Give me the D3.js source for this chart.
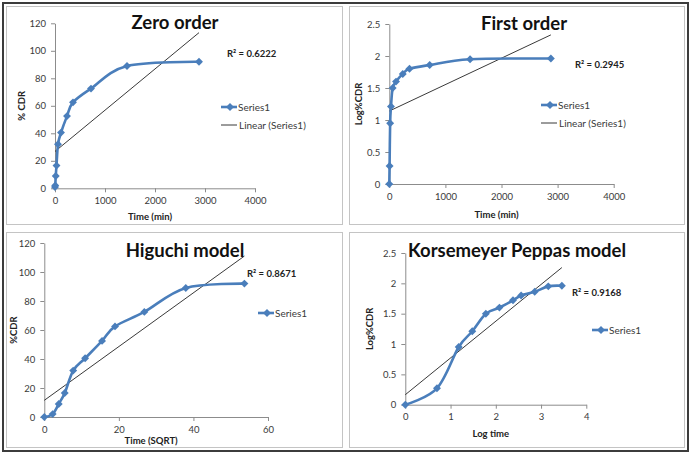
<!DOCTYPE html>
<html>
<head>
<meta charset="utf-8">
<script src="https://cdn.jsdelivr.net/npm/d3@7"></script>
<style>
  body { margin: 0; background: #fff; }
  svg { display: block; font-family: Lato, "Open Sans", sans-serif; }
</style>
</head>
<body>
<div id="chart"></div>
<script>
// data
const timeMin = [0, 5, 15, 30, 60, 120, 240, 360, 720, 1440, 2880];
const cdr = [1, 2, 9, 16.5, 32, 40.5, 52.5, 62.5, 72.5, 89, 92];
const logCdr = [0, 0.28, 0.95, 1.21, 1.5, 1.6, 1.72, 1.8, 1.86, 1.95, 1.96];
const sqrtTime = [0, 2.24, 3.87, 5.48, 7.75, 10.95, 15.49, 18.97, 26.83, 37.95, 53.67];
const cdrHiguchi = [0, 2, 9, 16.5, 32, 40.5, 52.5, 62.5, 72.5, 89, 92];
const logTime = [0, 0.7, 1.18, 1.48, 1.78, 2.08, 2.38, 2.56, 2.86, 3.16, 3.46];
const logCdrKp = [0, 0.27, 0.95, 1.21, 1.5, 1.6, 1.72, 1.8, 1.86, 1.95, 1.96];

// trend line end points (as drawn)
const trendZero = [[0, 26.8], [2880, 113.2]];
const trendFirst = [[0, 1.14], [2880, 2.33]];
const trendHiguchi = [[0, 11.5], [53.67, 111]];
const trendKp = [[0, 0.165], [3.46, 2.26]];

const titles = ["Zero order", "First order", "Higuchi model", "Korsemeyer Peppas model"];
const r2Labels = ["R\u00B2 = 0.6222", "R\u00B2 = 0.2945", "R\u00B2 = 0.8671", "R\u00B2 = 0.9168"];
const xLabels = ["Time (min)", "Time (min)", "Time (SQRT)", "Log time"];
const yLabels = ["% CDR", "Log%CDR", "%CDR", "Log%CDR"];
const xTicksTime = [0, 1000, 2000, 3000, 4000];
const xTicksSqrt = [0, 20, 40, 60];
const xTicksLog = [0, 1, 2, 3, 4];
const yTicksPct = [0, 20, 40, 60, 80, 100, 120];
const yTicksLog = [0, 0.5, 1, 1.5, 2, 2.5];

const W = 694, H = 457;
const blue = "#4a7ebb";
const axisColor = "#8c8c8c";
const textColor = "#3a3a3a";

const svg = d3.select("#chart").append("svg")
  .attr("width", W).attr("height", H);

// panel frames
const frames = [[6, 6, 336, 218], [349, 6, 335, 218], [6, 232, 336, 215], [349, 232, 335, 215]];
frames.forEach(f => {
  svg.append("rect")
    .attr("x", f[0] + 0.5).attr("y", f[1] + 0.5)
    .attr("width", f[2]).attr("height", f[3])
    .attr("fill", "none").attr("stroke", "#c4c4c4").attr("stroke-width", 1);
});
svg.append("rect")
  .attr("x", 3).attr("y", 3).attr("width", 685).attr("height", 448)
  .attr("fill", "none").attr("stroke", "#3c3c3c").attr("stroke-width", 2);

const panels = [
  { xs: timeMin, ys: cdr, trend: trendZero, xDom: [0, 4000], yDom: [0, 120],
    xTicks: xTicksTime, yTicks: yTicksPct, linear: true,
    xr: [55, 255], yr: [188.3, 23.3], titleX: 175, titleY: 29,
    r2X: 227, r2Y: 56.5, legX: 221, legY: 107, yLabX: 25, xLabY: 220 },
  { xs: timeMin, ys: logCdr, trend: trendFirst, xDom: [0, 4000], yDom: [0, 2.5],
    xTicks: xTicksTime, yTicks: yTicksLog, linear: true,
    xr: [389.3, 613.7], yr: [184, 24], titleX: 524, titleY: 30,
    r2X: 575, r2Y: 67.5, legX: 541, legY: 105, yLabX: 362, xLabY: 218 },
  { xs: sqrtTime, ys: cdrHiguchi, trend: trendHiguchi, xDom: [0, 60], yDom: [0, 120],
    xTicks: xTicksSqrt, yTicks: yTicksPct, linear: false,
    xr: [44.3, 268], yr: [417, 243], titleX: 185, titleY: 257,
    r2X: 247, r2Y: 276.5, legX: 258, legY: 313, yLabX: 17, xLabY: 444 },
  { xs: logTime, ys: logCdrKp, trend: trendKp, xDom: [0, 4], yDom: [0, 2.5],
    xTicks: xTicksLog, yTicks: yTicksLog, linear: false,
    xr: [405.3, 586.3], yr: [404.7, 253], titleX: 517, titleY: 257,
    r2X: 572, r2Y: 295.5, legX: 592, legY: 330, yLabX: 373, xLabY: 437 }
];

const diamond = d3.symbol().type(d3.symbolDiamond2 || d3.symbolDiamond).size(40);

panels.forEach((p, i) => {
  const g = svg.append("g");
  const x = d3.scaleLinear().domain(p.xDom).range(p.xr);
  const y = d3.scaleLinear().domain(p.yDom).range(p.yr);

  // axes
  const xAxis = d3.axisBottom(x).tickValues(p.xTicks).tickSize(4).tickSizeOuter(0)
    .tickPadding(5).tickFormat(d3.format(""));
  const yAxis = d3.axisLeft(y).tickValues(p.yTicks).tickSize(4).tickSizeOuter(0)
    .tickPadding(5).tickFormat(d3.format(""));

  const gx = g.append("g").attr("transform", "translate(0," + p.yr[0] + ")").call(xAxis);
  const gy = g.append("g").attr("transform", "translate(" + p.xr[0] + ",0)").call(yAxis);
  [gx, gy].forEach(a => {
    a.selectAll("path, line").attr("stroke", axisColor);
    a.selectAll("text").attr("fill", textColor).style("font-size", "9.5px")
      .style("font-family", "Lato, sans-serif");
  });

  // trend line
  g.append("line")
    .attr("x1", x(p.trend[0][0])).attr("y1", y(p.trend[0][1]))
    .attr("x2", x(p.trend[1][0])).attr("y2", y(p.trend[1][1]))
    .attr("stroke", "#222").attr("stroke-width", 0.9);

  // series
  const pts = p.xs.map((v, k) => [v, p.ys[k]]);
  g.append("path")
    .datum(pts)
    .attr("d", d3.line().x(d => x(d[0])).y(d => y(d[1])).curve(d3.curveCatmullRom.alpha(0)))
    .attr("fill", "none").attr("stroke", blue).attr("stroke-width", 2.6);

  g.selectAll(".pt" + i)
    .data(pts)
    .enter()
    .append("path")
    .attr("class", "pt" + i)
    .attr("d", diamond)
    .attr("transform", d => "translate(" + x(d[0]) + "," + y(d[1]) + ")")
    .attr("fill", blue);

  // title
  g.append("text")
    .attr("x", p.titleX).attr("y", p.titleY)
    .attr("text-anchor", "middle")
    .style("font-size", "18.5px").style("font-weight", "bold")
    .attr("fill", "#111")
    .text(titles[i]);

  // R squared
  g.append("text")
    .attr("x", p.r2X).attr("y", p.r2Y)
    .style("font-size", "9.5px").style("font-weight", "bold")
    .attr("fill", "#222")
    .text(r2Labels[i]);

  // legend
  const lg = g.append("g").attr("transform", "translate(" + p.legX + "," + p.legY + ")");
  lg.append("line").attr("x1", 0).attr("x2", 16).attr("y1", 0).attr("y2", 0)
    .attr("stroke", blue).attr("stroke-width", 2.6);
  lg.append("path").attr("d", diamond).attr("transform", "translate(9,0)").attr("fill", blue);
  lg.append("text").attr("x", 17).attr("y", 3.5)
    .style("font-size", "10px").attr("fill", textColor).text("Series1");
  if (p.linear) {
    lg.append("line").attr("x1", 0).attr("x2", 16).attr("y1", 18).attr("y2", 18)
      .attr("stroke", "#222").attr("stroke-width", 0.9);
    lg.append("text").attr("x", 18).attr("y", 21.5)
      .style("font-size", "10px").attr("fill", textColor).text("Linear (Series1)");
  }

  // axis titles
  g.append("text")
    .attr("x", (p.xr[0] + p.xr[1]) / 2 - 5).attr("y", p.xLabY)
    .attr("text-anchor", "middle")
    .style("font-size", "9.5px").style("font-weight", "bold")
    .attr("fill", "#222")
    .text(xLabels[i]);

  g.append("text")
    .attr("transform", "translate(" + p.yLabX + "," + ((p.yr[0] + p.yr[1]) / 2) + ") rotate(-90)")
    .attr("text-anchor", "middle")
    .style("font-size", "9.5px").style("font-weight", "bold")
    .attr("fill", "#222")
    .text(yLabels[i]);
});
</script>
</body>
</html>
